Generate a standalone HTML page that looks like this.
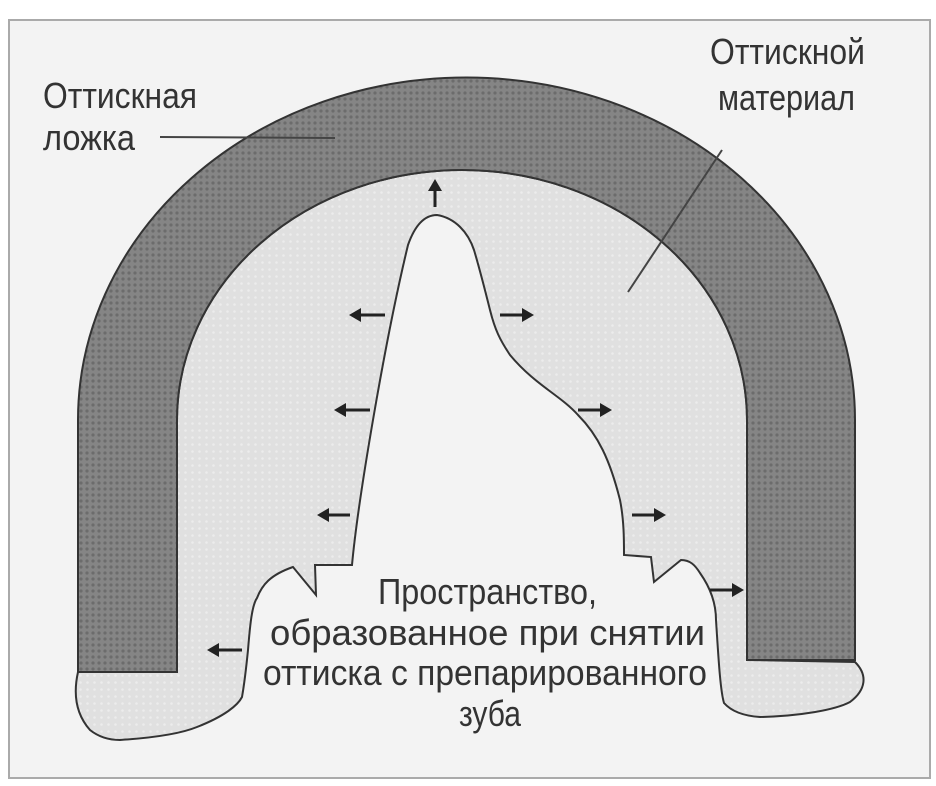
<!DOCTYPE html>
<html><head><meta charset="utf-8"><style>
html,body{margin:0;padding:0;background:#fff;}
svg{display:block;}
text{font-family:"Liberation Sans",sans-serif;fill:#333;}
</style></head><body>
<svg width="936" height="786" viewBox="0 0 936 786" xmlns="http://www.w3.org/2000/svg">
<defs>
<pattern id="dk" width="6" height="6" patternUnits="userSpaceOnUse">
<rect width="6" height="6" fill="#858585"/><circle cx="3" cy="3" r="1.6" fill="#6c6c6c"/>
</pattern>
<pattern id="lt" width="7" height="7" patternUnits="userSpaceOnUse">
<rect width="7" height="7" fill="#e0e0e0"/><circle cx="3.5" cy="3.5" r="1.3" fill="#ececec"/>
</pattern>
</defs>
<rect x="9" y="20" width="921" height="758" fill="#f3f3f3" stroke="#aaa" stroke-width="2"/>
<path d="M177,672 L78,672 C74,690 74,712 90,730 C100,738 110,740 120,740 C150,738 180,734 197,727 C225,716 238,705 242,697 C245,680 246,670 248,650 C250,625 252,605 257,598 C262,585 270,575 293,567 L316,595 L315,565 L352,565 C358,500 385,340 408,245 C415,225 425,215 437,215 C455,218 468,232 474,250 C480,270 485,290 490,310 C495,330 500,340 510,355 C535,385 560,395 578,415 C598,435 610,460 620,500 C624,520 624,540 624,555 L651,557 L654,582 L681,560 C690,560 695,565 700,573 C712,590 716,605 716,620 C718,650 720,690 724,703 C732,712 745,716 760,717 C800,716 835,710 850,702 C866,690 868,675 855,662 L747,660 L747,420 A285,250 0 0 0 177,420 Z" fill="url(#lt)" stroke="#333" stroke-width="2"/>
<path d="M78,672 L78,420 A388,342 0 0 1 855,420 L855,660 L747,660 L747,420 A285,250 0 0 0 177,420 L177,672 Z" fill="url(#dk)" stroke="#333" stroke-width="2"/>
<line x1="160" y1="137" x2="335" y2="138" stroke="#444" stroke-width="2"/>
<line x1="722" y1="150" x2="628" y2="292" stroke="#444" stroke-width="2"/>
<g stroke="#222" stroke-width="3" fill="#222">
<line x1="435" y1="207" x2="435" y2="188"/><path d="M428,191 L435,179 L442,191 Z" stroke="none"/>
<line x1="385" y1="315" x2="358" y2="315"/><path d="M361,308 L349,315 L361,322 Z" stroke="none"/>
<line x1="370" y1="410" x2="343" y2="410"/><path d="M346,403 L334,410 L346,417 Z" stroke="none"/>
<line x1="350" y1="515" x2="326" y2="515"/><path d="M329,508 L317,515 L329,522 Z" stroke="none"/>
<line x1="242" y1="650" x2="216" y2="650"/><path d="M219,643 L207,650 L219,657 Z" stroke="none"/>
<line x1="500" y1="315" x2="525" y2="315"/><path d="M522,308 L534,315 L522,322 Z" stroke="none"/>
<line x1="578" y1="410" x2="603" y2="410"/><path d="M600,403 L612,410 L600,417 Z" stroke="none"/>
<line x1="632" y1="515" x2="657" y2="515"/><path d="M654,508 L666,515 L654,522 Z" stroke="none"/>
<line x1="710" y1="590" x2="735" y2="590"/><path d="M732,583 L744,590 L732,597 Z" stroke="none"/>
</g>
<g font-size="36" lengthAdjust="spacingAndGlyphs">
<text x="43" y="108" textLength="154" lengthAdjust="spacingAndGlyphs">Оттискная</text>
<text x="43" y="150" textLength="92" lengthAdjust="spacingAndGlyphs">ложка</text>
<text x="710" y="64" textLength="155" lengthAdjust="spacingAndGlyphs">Оттискной</text>
<text x="718" y="110" textLength="137" lengthAdjust="spacingAndGlyphs">материал</text>
<text x="378" y="604" textLength="219" lengthAdjust="spacingAndGlyphs">Пространство,</text>
<text x="270" y="645" textLength="435" lengthAdjust="spacingAndGlyphs">образованное при снятии</text>
<text x="263" y="685" textLength="444" lengthAdjust="spacingAndGlyphs">оттиска с препарированного</text>
<text x="459" y="726" textLength="62" lengthAdjust="spacingAndGlyphs">зуба</text>
</g>
</svg>
</body></html>
